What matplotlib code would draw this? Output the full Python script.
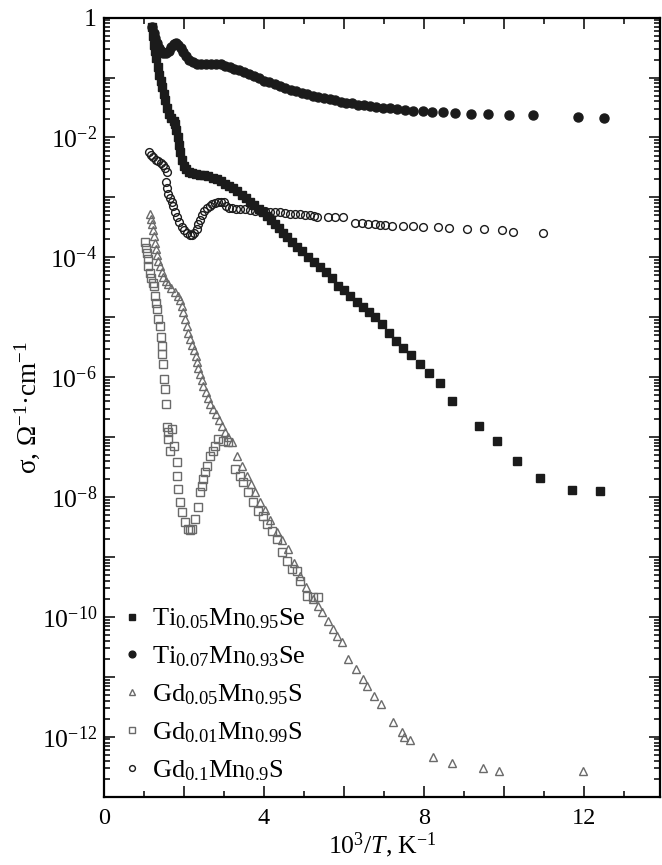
import matplotlib
matplotlib.use("Agg")
import matplotlib.pyplot as plt
import numpy as np
from matplotlib.ticker import FuncFormatter, LogLocator, MultipleLocator, NullFormatter

plt.rcParams["font.family"] = ["Liberation Serif", "DejaVu Serif"]
plt.rcParams["mathtext.fontset"] = "custom"
plt.rcParams["mathtext.rm"] = "Liberation Serif"
plt.rcParams["mathtext.it"] = "Liberation Serif:italic"
plt.rcParams["mathtext.default"] = "rm"

# 10^3/T and lg(sigma)
ti005_x = [1.20, 1.23, 1.26, 1.28, 1.31, 1.35, 1.38, 1.42, 1.45, 1.49, 1.53, 1.57, 1.62, 1.68,
           1.74, 1.78, 1.81, 1.84, 1.87, 1.90, 1.94, 1.99, 2.05, 2.12, 2.20, 2.30, 2.40, 2.50,
           2.60, 2.72, 2.82, 2.92, 3.02, 3.12, 3.23, 3.33, 3.44, 3.55, 3.66, 3.76, 3.87, 3.97,
           4.07, 4.17, 4.27, 4.37, 4.48, 4.58, 4.70, 4.82, 4.95, 5.10, 5.25, 5.40, 5.55, 5.70,
           5.85, 6.00, 6.15, 6.32, 6.48, 6.63, 6.78, 6.95, 7.12, 7.30, 7.48, 7.68, 7.90, 8.13,
           8.40, 8.70, 9.38, 9.83, 10.33, 10.90, 11.70, 12.40]
ti005_lg = [-0.15, -0.30, -0.45, -0.55, -0.68, -0.82, -0.95, -1.05, -1.15, -1.27, -1.38, -1.50,
            -1.60, -1.68, -1.73, -1.77, -1.88, -2.00, -2.12, -2.25, -2.38, -2.47, -2.53, -2.57,
            -2.60, -2.61, -2.62, -2.63, -2.64, -2.67, -2.70, -2.73, -2.77, -2.81, -2.85, -2.90,
            -2.96, -3.01, -3.07, -3.13, -3.19, -3.25, -3.31, -3.38, -3.44, -3.51, -3.59, -3.66,
            -3.74, -3.82, -3.90, -3.99, -4.07, -4.16, -4.25, -4.35, -4.47, -4.55, -4.64, -4.74,
            -4.83, -4.92, -5.00, -5.12, -5.27, -5.40, -5.51, -5.63, -5.78, -5.93, -6.10, -6.40,
            -6.82, -7.07, -7.40, -7.68, -7.88, -7.90]

ti007_x = [1.20, 1.24, 1.28, 1.32, 1.37, 1.42, 1.48, 1.55, 1.62, 1.68, 1.74, 1.80, 1.86, 1.92,
           1.98, 2.05, 2.13, 2.22, 2.32, 2.43, 2.55, 2.67, 2.80, 2.92, 3.03, 3.14, 3.25, 3.37,
           3.50, 3.62, 3.75, 3.88, 4.00, 4.13, 4.27, 4.40, 4.53, 4.67, 4.80, 4.94, 5.08, 5.22,
           5.36, 5.50, 5.64, 5.78, 5.92, 6.06, 6.20, 6.35, 6.50, 6.65, 6.80, 6.97, 7.15, 7.33,
           7.52, 7.73, 7.98, 8.20, 8.48, 8.78, 9.18, 9.60, 10.13, 10.73, 11.85, 12.50]
ti007_lg = [-0.15, -0.25, -0.34, -0.42, -0.50, -0.56, -0.59, -0.59, -0.55, -0.49, -0.44, -0.42,
            -0.45, -0.51, -0.57, -0.64, -0.70, -0.74, -0.77, -0.78, -0.78, -0.78, -0.78, -0.78,
            -0.80, -0.82, -0.85, -0.88, -0.91, -0.94, -0.98, -1.01, -1.05, -1.08, -1.11, -1.14,
            -1.17, -1.20, -1.23, -1.26, -1.28, -1.30, -1.32, -1.34, -1.36, -1.38, -1.40, -1.42,
            -1.43, -1.45, -1.46, -1.48, -1.49, -1.50, -1.51, -1.52, -1.54, -1.55, -1.56, -1.57,
            -1.58, -1.59, -1.60, -1.61, -1.62, -1.63, -1.65, -1.68]

gd005_x = [1.15, 1.18, 1.20, 1.22, 1.24, 1.27, 1.30, 1.33, 1.36, 1.40, 1.44, 1.48, 1.54, 1.60,
           1.68, 1.78, 1.85, 1.90, 1.94, 1.98, 2.02, 2.07, 2.11, 2.15, 2.20, 2.25, 2.29, 2.32,
           2.36, 2.40, 2.44, 2.48, 2.54, 2.60, 2.66, 2.73, 2.80, 2.87, 2.95, 3.03, 3.11, 3.20,
           3.32, 3.45, 3.57, 3.68, 3.78, 3.90, 4.02, 4.16, 4.32, 4.46, 4.60, 4.75, 4.90, 5.06,
           5.23, 5.34, 5.45, 5.60, 5.72, 5.82, 5.95, 6.10, 6.30, 6.48, 6.57, 6.75, 6.92, 7.23,
           7.45, 7.50, 7.65, 8.22, 8.70, 9.48, 9.88, 11.98]
gd005_lg = [-3.28, -3.36, -3.44, -3.55, -3.65, -3.76, -3.86, -3.96, -4.06, -4.15, -4.24, -4.32,
            -4.39, -4.45, -4.51, -4.58, -4.64, -4.72, -4.82, -4.92, -5.03, -5.15, -5.26, -5.37,
            -5.46, -5.55, -5.65, -5.75, -5.85, -5.95, -6.05, -6.15, -6.25, -6.35, -6.44, -6.53,
            -6.62, -6.72, -6.82, -6.91, -7.00, -7.08, -7.32, -7.48, -7.65, -7.79, -7.92, -8.08,
            -8.22, -8.38, -8.58, -8.72, -8.87, -9.10, -9.32, -9.50, -9.70, -9.81, -9.92, -10.07,
            -10.20, -10.32, -10.42, -10.70, -10.87, -11.03, -11.15, -11.32, -11.45, -11.75,
            -11.92, -12.00, -12.05, -12.33, -12.43, -12.52, -12.58, -12.58]

gd001_x = [1.03, 1.05, 1.07, 1.09, 1.10, 1.14, 1.18, 1.22, 1.26, 1.28, 1.30, 1.32, 1.35, 1.40,
           1.43, 1.45, 1.46, 1.48, 1.50, 1.53, 1.55, 1.57, 1.60, 1.70, 1.60, 1.65, 1.75, 1.82,
           1.83, 1.85, 1.90, 1.95, 2.03, 2.10, 2.15, 2.20, 2.28, 2.35, 2.40, 2.44, 2.48, 2.52,
           2.57, 2.65, 2.72, 2.78, 2.85, 2.98, 3.10, 3.28, 3.40, 3.48, 3.60, 3.73, 3.85, 3.98,
           4.08, 4.20, 4.32, 4.45, 4.57, 4.70, 4.82, 4.90, 5.07, 5.22, 5.35]
gd001_lg = [-3.75, -3.84, -3.92, -4.03, -4.15, -4.26, -4.35, -4.42, -4.48, -4.65, -4.76, -4.87,
            -5.03, -5.15, -5.33, -5.48, -5.62, -5.78, -6.03, -6.20, -6.45, -6.83, -6.92, -6.87,
            -7.03, -7.23, -7.15, -7.42, -7.65, -7.87, -8.08, -8.25, -8.42, -8.53, -8.55, -8.53,
            -8.37, -8.17, -7.92, -7.81, -7.70, -7.59, -7.48, -7.32, -7.23, -7.15, -7.03, -7.07,
            -7.08, -7.53, -7.65, -7.75, -7.92, -8.08, -8.23, -8.32, -8.45, -8.57, -8.70, -8.92,
            -9.07, -9.20, -9.23, -9.40, -9.65, -9.67, -9.67]

gd01_x = [1.13, 1.18, 1.23, 1.29, 1.35, 1.42, 1.48, 1.53, 1.57, 1.55, 1.57, 1.61, 1.65, 1.69,
          1.73, 1.78, 1.82, 1.88, 1.95, 2.01, 2.07, 2.14, 2.20, 2.26, 2.32, 2.36, 2.40, 2.45,
          2.51, 2.57, 2.64, 2.71, 2.78, 2.86, 2.93, 2.99, 3.05, 3.12, 3.20, 3.30, 3.40, 3.52,
          3.65, 3.78, 3.90, 4.03, 4.15, 4.28, 4.40, 4.52, 4.65, 4.78, 4.90, 5.02, 5.14, 5.25,
          5.33, 5.60, 5.78, 5.98, 6.28, 6.45, 6.60, 6.78, 6.90, 7.03, 7.20, 7.47, 7.73, 7.98,
          8.35, 8.63, 9.07, 9.50, 9.95, 10.23, 10.98]
gd01_lg = [-2.25, -2.30, -2.33, -2.37, -2.40, -2.43, -2.46, -2.51, -2.57, -2.75, -2.85, -2.94,
           -3.01, -3.08, -3.15, -3.24, -3.32, -3.41, -3.49, -3.55, -3.59, -3.62, -3.62, -3.59,
           -3.53, -3.45, -3.37, -3.30, -3.23, -3.18, -3.14, -3.11, -3.09, -3.08, -3.07, -3.07,
           -3.15, -3.17, -3.18, -3.19, -3.20, -3.20, -3.21, -3.22, -3.23, -3.23, -3.24, -3.25,
           -3.25, -3.26, -3.27, -3.28, -3.28, -3.29, -3.30, -3.31, -3.32, -3.33, -3.33, -3.32,
           -3.42, -3.43, -3.44, -3.45, -3.46, -3.46, -3.47, -3.48, -3.48, -3.49, -3.50, -3.51,
           -3.52, -3.53, -3.55, -3.57, -3.60]

fig = plt.figure(figsize=(6.62, 8.65), dpi=100)
ax = fig.add_axes([0.157, 0.079, 0.840, 0.9006])

dark = "#1b1b1b"
grey = "#6a6a6a"

ax.plot(ti005_x, 10 ** np.array(ti005_lg), ls="none", marker="s", ms=5.8,
        mfc=dark, mec=dark, label=r"Ti$_{0.05}$Mn$_{0.95}$Se")
ax.plot(ti007_x, 10 ** np.array(ti007_lg), ls="none", marker="o", ms=6.5,
        mfc=dark, mec=dark, label=r"Ti$_{0.07}$Mn$_{0.93}$Se")
ax.plot(gd005_x, 10 ** np.array(gd005_lg), ls="none", marker="^", ms=6.4,
        mfc="none", mec=grey, mew=1.0, label=r"Gd$_{0.05}$Mn$_{0.95}$S")
ax.plot(gd001_x, 10 ** np.array(gd001_lg), ls="none", marker="s", ms=5.6,
        mfc="none", mec=grey, mew=1.0, label=r"Gd$_{0.01}$Mn$_{0.99}$S")
ax.plot(gd01_x, 10 ** np.array(gd01_lg), ls="none", marker="o", ms=5.6,
        mfc="none", mec=dark, mew=1.0, label=r"Gd$_{0.1}$Mn$_{0.9}$S")

ax.set_yscale("log")
ax.set_xlim(0, 13.9)
ax.set_ylim(1e-13, 1)

ax.xaxis.set_major_locator(MultipleLocator(2))
ax.xaxis.set_minor_locator(MultipleLocator(1))
ax.xaxis.set_major_formatter(
    FuncFormatter(lambda v, p: f"{v:.0f}" if 0 <= v <= 13.9 and round(v) % 4 == 0 else ""))

ax.yaxis.set_major_locator(LogLocator(base=10, numticks=40))
ax.yaxis.set_minor_locator(LogLocator(base=10, subs=np.arange(2, 10), numticks=40))
ax.yaxis.set_minor_formatter(NullFormatter())


def ylab(v, p):
    e = int(round(np.log10(v)))
    if e % 2 or e < -12 or e > 0:
        return ""
    if e == 0:
        return "1"
    return r"$10^{%d}$" % e


ax.yaxis.set_major_formatter(FuncFormatter(ylab))

ax.tick_params(which="both", direction="in", top=True, right=True, width=1.1)
ax.tick_params(which="major", length=8)
ax.tick_params(which="minor", length=4.5)
ax.tick_params(axis="x", labelsize=17.5, pad=8)
ax.tick_params(axis="y", labelsize=18.5, pad=5)
for s in ax.spines.values():
    s.set_linewidth(1.6)

ax.set_xlabel(r"$10^3/\mathit{T}$, K$^{-1}$", fontsize=18.5, labelpad=1)
ax.set_ylabel(r"σ, Ω$^{-1}$·cm$^{-1}$", fontsize=19.5, labelpad=0)

ax.legend(loc="lower left", bbox_to_anchor=(0.036, 0.018), frameon=False, fontsize=19,
          markerscale=0.75, handlelength=0.6, handletextpad=0.45, labelspacing=0.5,
          borderaxespad=0.0, borderpad=0.0)

fig.savefig("out.png", dpi=100)
